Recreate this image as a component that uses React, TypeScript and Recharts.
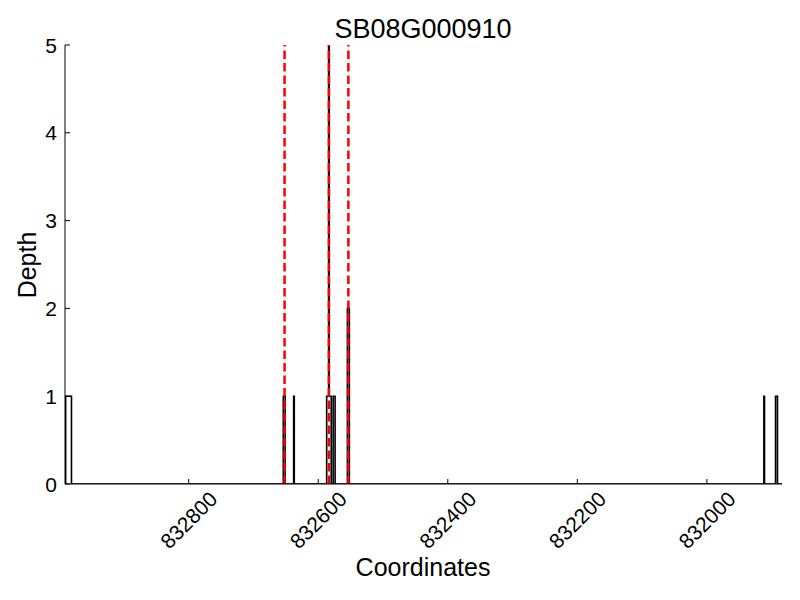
import { LineChart, Line, XAxis, YAxis, ReferenceLine } from 'recharts';

// depth profile (step function), coordinates run right-to-left
const coords = [
  832991, 832990, 832981, 832654, 832651, 832638, 832637, 832587, 832584, 832583,
  832580, 832577, 832574, 832555, 832552, 831912, 831911, 831894, 831891, 831884,
];
const depth = [0, 1, 0, 1, 0, 1, 0, 1, 8, 1, 0, 1, 0, 2, 0, 1, 0, 1, 0, 0];

const markers = [832652, 832583.5, 832553.5];
const xTicks = [832800, 832600, 832400, 832200, 832000];
const yTicks = [0, 1, 2, 3, 4, 5];

const data = coords.map((c, i) => ({ coord: c, depth: depth[i] }));

const FONT = '"Liberation Sans", Arial, sans-serif';

const XTick = (props: any) => {
  const { x, y, payload } = props;
  const cy = y + 36;
  return (
    <g>
      <line x1={x} y1={y} x2={x} y2={y - 5} stroke="#000" strokeWidth={1} />
      <text
        x={x}
        y={cy}
        textAnchor="middle"
        dominantBaseline="central"
        fontSize={21}
        fontFamily={FONT}
        fill="#000"
        transform={`rotate(-45, ${x}, ${cy})`}
      >
        {payload.value}
      </text>
    </g>
  );
};

const YTick = (props: any) => {
  const { x, y, payload } = props;
  return (
    <g>
      <line x1={x} y1={y} x2={x + 5} y2={y} stroke="#000" strokeWidth={1} />
      <text
        x={x - 8}
        y={y}
        textAnchor="end"
        dominantBaseline="central"
        fontSize={21}
        fontFamily={FONT}
        fill="#000"
      >
        {payload.value}
      </text>
    </g>
  );
};

export default function App() {
  return (
    <div style={{ position: 'absolute', left: 0, top: 0, width: 800, height: 600, background: '#fff' }}>
      <LineChart
        width={800}
        height={600}
        data={data}
        margin={{ top: 45, right: 18, bottom: 16, left: 5 }}
      >
        <XAxis
          dataKey="coord"
          type="number"
          domain={[831884, 832991]}
          reversed
          ticks={xTicks}
          tick={<XTick />}
          tickSize={0}
          tickMargin={0}
          tickLine={false}
          height={100}
          axisLine={{ stroke: '#000', strokeWidth: 1 }}
          allowDataOverflow
        />
        <YAxis
          type="number"
          domain={[0, 5]}
          ticks={yTicks}
          tick={<YTick />}
          tickSize={0}
          tickMargin={0}
          tickLine={false}
          width={60}
          axisLine={{ stroke: '#000', strokeWidth: 1 }}
          allowDataOverflow
        />
        <Line
          dataKey="depth"
          type="stepAfter"
          stroke="#000"
          strokeWidth={1.6}
          dot={false}
          isAnimationActive={false}
        />
        {markers.map((m) => (
          <ReferenceLine key={m} x={m} stroke="#ff0000" strokeWidth={2.5} strokeDasharray="8.5 4" />
        ))}
      </LineChart>
      <svg
        width={800}
        height={600}
        style={{ position: 'absolute', left: 0, top: 0, pointerEvents: 'none' }}
      >
        <text x={423} y={38} textAnchor="middle" fontSize={27} fontFamily={FONT} fill="#000">
          SB08G000910
        </text>
        <text x={423} y={576} textAnchor="middle" fontSize={25} fontFamily={FONT} fill="#000">
          Coordinates
        </text>
        <text
          x={36}
          y={265}
          textAnchor="middle"
          fontSize={25}
          fontFamily={FONT}
          fill="#000"
          transform="rotate(-90, 36, 265)"
        >
          Depth
        </text>
      </svg>
    </div>
  );
}
